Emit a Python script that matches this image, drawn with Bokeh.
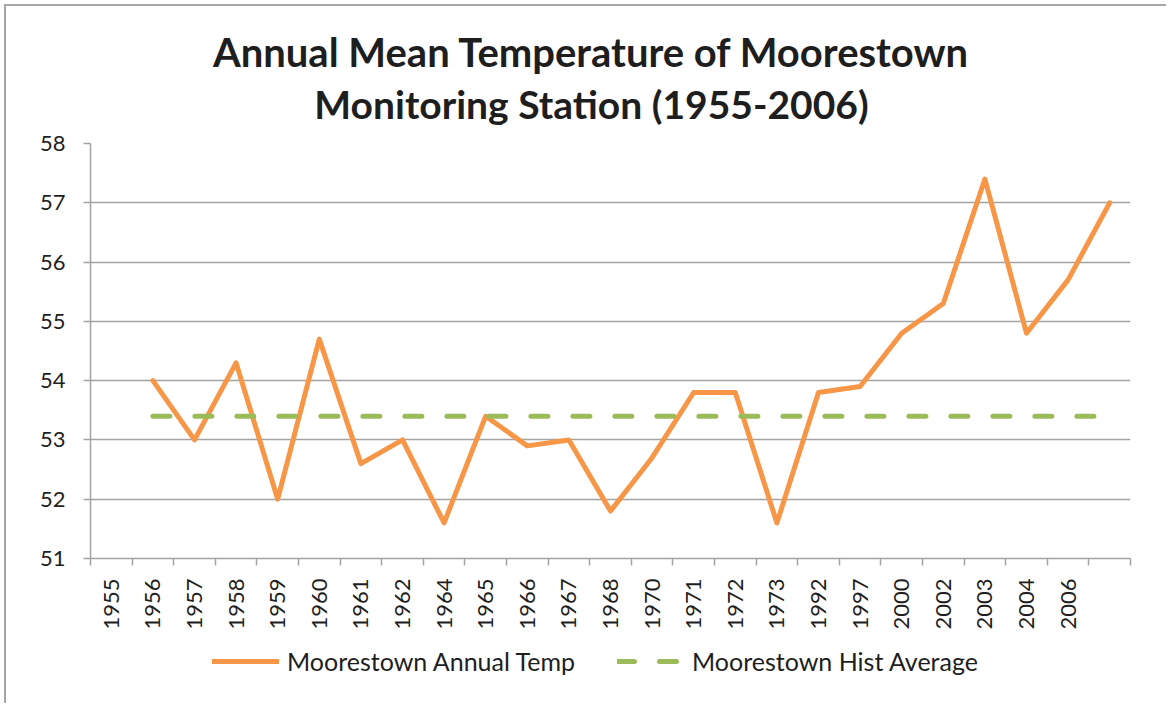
from bokeh.plotting import figure
from bokeh.models import (Range1d, FixedTicker, Legend, LegendItem, Label)
from bokeh.layouts import column
from bokeh.embed import file_html
from bokeh.resources import INLINE
import math

# ---- data ----
year_labels = ["1955", "1956", "1957", "1958", "1959", "1960", "1961", "1962",
               "1964", "1965", "1966", "1967", "1968", "1970", "1971", "1972",
               "1973", "1992", "1997", "2000", "2002", "2003", "2004", "2006", ""]
annual_temp = [54.0, 53.0, 54.3, 52.0, 54.7, 52.6, 53.0, 51.6, 53.4, 52.9,
               53.0, 51.8, 52.7, 53.8, 53.8, 51.6, 53.8, 53.9, 54.8, 55.3,
               57.4, 54.8, 55.7, 57.0]
hist_average = [53.4, 53.4, 53.4, 53.4, 53.4, 53.4, 53.4, 53.4, 53.4, 53.4,
                53.4, 53.4, 53.4, 53.4, 53.4, 53.4, 53.4, 53.4, 53.4, 53.4,
                53.4, 53.4, 53.4, 53.4]
y_ticks = [51, 52, 53, 54, 55, 56, 57, 58]
title_lines = ["Annual Mean Temperature of Moorestown",
               "Monitoring Station (1955-2006)"]
series_names = ["Moorestown Annual Temp", "Moorestown Hist Average"]

n_cat = len(year_labels)
# series occupy categories 2..25 (offset by one from the labels, as in the source)
xs = [i + 1.5 for i in range(len(annual_temp))]
centers = [i + 0.5 for i in range(n_cat)]
bounds = list(range(n_cat + 1))

GRID = "#A3A3A3"
TEXT = "#1E1E1E"
FONT = "Lato"
ORANGE = "#F79646"
GREEN = "#9BBB59"
BL, BR = 84, 36          # left / right borders shared by all strips
W = 1160

# ---------------- title strip ----------------
tf = figure(width=W, height=123, output_backend="svg", toolbar_location=None,
            x_range=Range1d(0, 1040), y_range=Range1d(0, 123),
            x_axis_location=None, y_axis_location=None,
            min_border_left=BL, min_border_right=BR,
            min_border_top=0, min_border_bottom=0)
tf.outline_line_color = None
tf.grid.visible = False
tf.title.visible = False
for line, ty, fs in zip(title_lines, [78, 26], ["40px", "39px"]):
    tf.add_layout(Label(x=501, y=ty, text=line, text_align="center",
                        text_baseline="alphabetic", text_font=FONT,
                        text_font_style="bold", text_font_size=fs,
                        text_color=TEXT))

# ---------------- main chart ----------------
p = figure(width=W, height=514, output_backend="svg", toolbar_location=None,
           x_range=Range1d(0, n_cat), y_range=Range1d(51, 58),
           min_border_left=BL, min_border_right=BR, min_border_top=14,
           min_border_bottom=85)
p.title.visible = False
p.outline_line_color = None
p.background_fill_color = "white"
p.border_fill_color = "white"

# x axis: labels at category centers, tick marks at boundaries (minor ticks)
xa = p.xaxis[0]
xa.ticker = FixedTicker(ticks=centers[:-1], minor_ticks=bounds)
xa.major_label_overrides = {c: lab for c, lab in zip(centers, year_labels)}
xa.major_tick_out = 0
xa.major_tick_in = 0
xa.minor_tick_out = 7
xa.minor_tick_in = 0
xa.minor_tick_line_color = GRID
xa.minor_tick_line_width = 1.5
xa.axis_line_color = GRID
xa.axis_line_width = 1.5
xa.major_label_orientation = math.pi / 2
xa.major_label_standoff = 13
xa.major_label_text_font = FONT
xa.major_label_text_font_size = "22px"
xa.major_label_text_color = TEXT

ya = p.yaxis[0]
ya.ticker = FixedTicker(ticks=y_ticks, minor_ticks=[])
ya.major_tick_out = 7
ya.major_tick_in = 0
ya.major_tick_line_color = GRID
ya.major_tick_line_width = 1.5
ya.axis_line_color = GRID
ya.axis_line_width = 1.5
ya.major_label_standoff = 18
ya.major_label_text_font = FONT
ya.major_label_text_font_size = "22px"
ya.major_label_text_color = TEXT

p.xgrid.grid_line_color = None
p.ygrid.ticker = FixedTicker(ticks=y_ticks)
p.ygrid.grid_line_color = GRID
p.ygrid.grid_line_width = 1.5

p.line(xs, annual_temp, line_color=ORANGE, line_width=5,
       line_join="round", line_cap="round")
p.line(xs, hist_average, line_color=GREEN, line_width=5,
       line_dash="17 25", line_cap="round")

# ---------------- legend strip ----------------
lg = figure(width=W, height=60, output_backend="svg", toolbar_location=None,
            x_range=Range1d(0, 1), y_range=Range1d(0, 1),
            x_axis_location=None, y_axis_location=None,
            min_border_left=BL, min_border_right=BR,
            min_border_top=0, min_border_bottom=0)
lg.outline_line_color = None
lg.grid.visible = False
lg.title.visible = False
# legend keys: same series, drawn outside this strip's visible range
k1 = lg.line(xs, annual_temp, line_color=ORANGE, line_width=5, line_cap="round")
k2 = lg.line(xs, hist_average, line_color=GREEN, line_width=5,
             line_dash="17 25", line_cap="round")
legend = Legend(items=[LegendItem(label=series_names[0], renderers=[k1]),
                       LegendItem(label=series_names[1], renderers=[k2])],
                orientation="horizontal", location=(122, 27),
                glyph_width=67, glyph_height=24, label_standoff=8, spacing=0,
                label_width=330, padding=0, margin=0, border_line_color=None,
                background_fill_alpha=0, label_text_font=FONT,
                label_text_font_size="25px", label_text_color=TEXT)
lg.add_layout(legend, "center")

layout = column(tf, p, lg, spacing=0)
layout.styles = {"margin-left": "4px", "margin-top": "4px",
                 "border-left": "2px solid #A6A6A6",
                 "border-top": "2px solid #A6A6A6"}

open("out.html", "w").write(file_html(layout, INLINE))
